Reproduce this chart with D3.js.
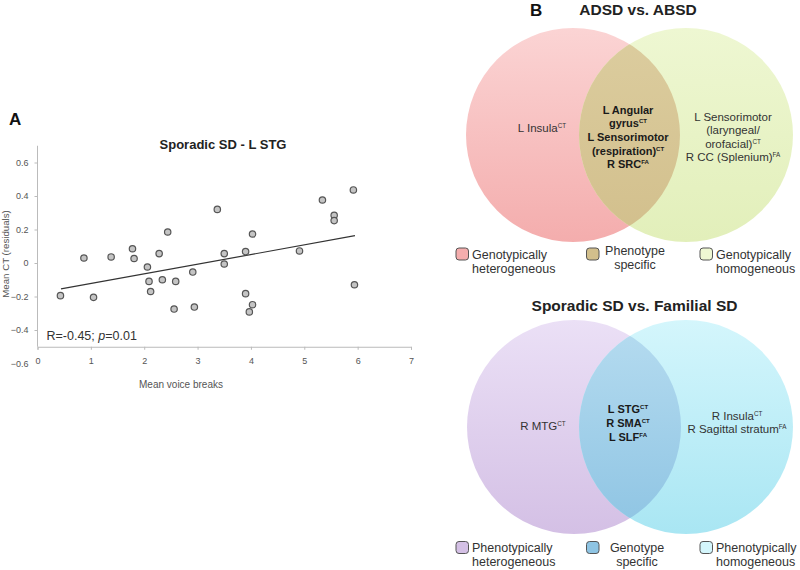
<!DOCTYPE html>
<html>
<head>
<meta charset="utf-8">
<script src="https://cdn.jsdelivr.net/npm/d3@7"></script>
<style>
  body { margin: 0; background: #fff; }
  svg { display: block; font-family: "Liberation Sans", Arial, sans-serif; }
</style>
</head>
<body>
<svg id="chart" width="800" height="570"></svg>
<script>
// panel A data
var voiceBreaks = [0.43, 0.87, 1.05, 1.38, 1.78, 1.81, 2.06, 2.28, 2.44, 2.09,
                   2.12, 2.34, 2.59, 2.56, 2.91, 2.94, 3.37, 3.50, 3.50, 3.90,
                   4.03, 3.90, 4.03, 3.97, 4.91, 5.34, 5.56, 5.56, 5.92, 5.94];
var meanCT = [-0.195, 0.03, -0.205, 0.036, 0.085, 0.027, -0.024, 0.056, 0.185, -0.11,
              -0.17, -0.10, -0.11, -0.275, -0.054, -0.263, 0.32, 0.056, -0.006, 0.068,
              0.173, -0.183, -0.249, -0.292, 0.072, 0.376, 0.285, 0.253, 0.436, -0.13];
var fitX = [0.44, 5.95];
var fitY = [-0.155, 0.163];
var xTicks = [0, 1, 2, 3, 4, 5, 6, 7];
var yTicks = [0.6, 0.4, 0.2, 0, -0.2, -0.4, -0.6];

// panel B labels: [text, superscript]
var topLeft = [["L Insula", "CT"]];
var topMid = [["L Angular", ""], ["gyrus", "CT"], ["L Sensorimotor", ""], ["(respiration)", "CT"], ["R SRC", "FA"]];
var topRight = [["L Sensorimotor", ""], ["(laryngeal/", ""], ["orofacial)", "CT"], ["R CC (Splenium)", "FA"]];
var botLeft = [["R MTG", "CT"]];
var botMid = [["L STG", "CT"], ["R SMA", "CT"], ["L SLF", "FA"]];
var botRight = [["R Insula", "CT"], ["R Sagittal stratum", "FA"]];
var topLegend = [["Genotypically", "heterogeneous"], ["Phenotype", "specific"], ["Genotypically", "homogeneous"]];
var botLegend = [["Phenotypically", "heterogeneous"], ["Genotype", "specific"], ["Phenotypically", "homogeneous"]];

var svg = d3.select("#chart");
var defs = svg.append("defs");

// ---------- panel A ----------
var x = d3.scaleLinear().domain([0, 7]).range([37.5, 411]);
var y = d3.scaleLinear().domain([-0.6, 0.7]).range([363.5, 145.75]);

svg.append("text").attr("x", 9).attr("y", 125)
  .attr("font-size", 17).attr("font-weight", "bold").attr("fill", "#111").text("A");

svg.append("text").attr("x", 223).attr("y", 148.5).attr("text-anchor", "middle")
  .attr("font-size", 13).attr("font-weight", "bold").attr("fill", "#222")
  .text("Sporadic SD - L STG");

var xAxis = svg.append("g").attr("transform", "translate(0," + y(-0.5) + ")")
  .call(d3.axisBottom(x).tickValues(xTicks).tickSize(3).tickPadding(8).tickFormat(d3.format("d")));
xAxis.select(".domain").attr("stroke", "#bbb");
xAxis.selectAll(".tick line").attr("stroke", "#bbb");
xAxis.selectAll("text").attr("fill", "#555").attr("font-size", 9)
  .attr("font-family", "Liberation Sans, Arial, sans-serif");

var yAxis = svg.append("g").attr("transform", "translate(" + x(0) + ",0)")
  .call(d3.axisLeft(y).tickValues(yTicks).tickSize(3).tickPadding(6)
    .tickFormat(function (d) { return d === 0 ? "0" : d3.format(".1f")(d); }));
yAxis.select(".domain").remove();
yAxis.selectAll(".tick line").attr("stroke", "#bbb")
  .attr("opacity", function (d) { return d < -0.5 ? 0 : 1; });
yAxis.selectAll("text").attr("fill", "#555").attr("font-size", 9)
  .attr("font-family", "Liberation Sans, Arial, sans-serif");
svg.append("line").attr("x1", x(0)).attr("x2", x(0))
  .attr("y1", y(0.7)).attr("y2", y(-0.5)).attr("stroke", "#bbb");

svg.append("text").attr("x", 181).attr("y", 387.5).attr("text-anchor", "middle")
  .attr("font-size", 10).attr("fill", "#555").text("Mean voice breaks");
svg.append("text").attr("transform", "translate(9,254) rotate(-90)")
  .attr("text-anchor", "middle").attr("font-size", 9.7).attr("fill", "#555")
  .text("Mean CT (residuals)");

svg.append("line")
  .attr("x1", x(fitX[0])).attr("y1", y(fitY[0]))
  .attr("x2", x(fitX[1])).attr("y2", y(fitY[1]))
  .attr("stroke", "#333").attr("stroke-width", 1.2);

svg.append("g").selectAll("circle").data(voiceBreaks).join("circle")
  .attr("cx", function (d) { return x(d); })
  .attr("cy", function (d, i) { return y(meanCT[i]); })
  .attr("r", 3.2)
  .attr("fill", "#c4c4c4").attr("stroke", "#555").attr("stroke-width", 1.2);

var rText = svg.append("text").attr("x", 46.5).attr("y", 340)
  .attr("font-size", 12.5).attr("fill", "#333");
rText.append("tspan").text("R=-0.45; ");
rText.append("tspan").attr("font-style", "italic").text("p");
rText.append("tspan").text("=0.01");

// ---------- panel B ----------
function grad(id, c1, c2) {
  var g = defs.append("linearGradient").attr("id", id)
    .attr("x1", 0).attr("y1", 0).attr("x2", 0).attr("y2", 1);
  g.append("stop").attr("offset", "0%").attr("stop-color", c1);
  g.append("stop").attr("offset", "100%").attr("stop-color", c2);
}

function writeLines(g, cx, y0, step, items, size, weight, color) {
  items.forEach(function (it, i) {
    var t = g.append("text").attr("x", cx).attr("y", y0 + i * step)
      .attr("text-anchor", "middle").attr("font-size", size)
      .attr("font-weight", weight).attr("fill", color);
    t.append("tspan").text(it[0]);
    if (it[1]) {
      t.append("tspan").attr("dy", -4).attr("font-size", size * 0.55).text(it[1]);
    }
  });
}

function venn(opt) {
  var g = svg.append("g");
  var r = 107;
  grad(opt.id + "L", opt.left[0], opt.left[1]);
  grad(opt.id + "R", opt.right[0], opt.right[1]);
  grad(opt.id + "M", opt.mid[0], opt.mid[1]);
  defs.append("clipPath").attr("id", opt.id + "clip")
    .append("circle").attr("cx", opt.cxL).attr("cy", opt.cy).attr("r", r);

  g.append("circle").attr("cx", opt.cxL).attr("cy", opt.cy).attr("r", r)
    .attr("fill", "url(#" + opt.id + "L)");
  g.append("circle").attr("cx", opt.cxR).attr("cy", opt.cy).attr("r", r)
    .attr("fill", "url(#" + opt.id + "R)");
  g.append("circle").attr("cx", opt.cxR).attr("cy", opt.cy).attr("r", r)
    .attr("clip-path", "url(#" + opt.id + "clip)")
    .attr("fill", "url(#" + opt.id + "M)");

  svg.append("text").attr("x", opt.titleX).attr("y", opt.titleY)
    .attr("text-anchor", "middle").attr("font-size", 15.5).attr("font-weight", "bold")
    .attr("fill", "#222").text(opt.title);

  writeLines(g, opt.leftText[0], opt.leftText[1], 13.6, opt.leftItems, 11.5, "normal", "#333");
  writeLines(g, 628, opt.midY, 13.7, opt.midItems, 11, "bold", "#1a1a1a");
  writeLines(g, opt.rightText[0], opt.rightText[1], 13.5, opt.rightItems, 11.5, "normal", "#333");

  // legend
  var lg = svg.append("g");
  var swatch = [opt.left[1], opt.mid[1], opt.right[0]];
  var sx = [456, 586.5, 700];
  opt.legend.forEach(function (lab, i) {
    lg.append("rect").attr("x", sx[i]).attr("y", opt.legY - 6)
      .attr("width", 12.5).attr("height", 12).attr("rx", 3)
      .attr("fill", swatch[i]).attr("stroke", "#555").attr("stroke-width", 1);
    if (i === 1) {
      [0, 1].forEach(function (k) {
        lg.append("text").attr("x", opt.midLegX).attr("y", opt.legY + 0.5 + k * 14.2 + opt.midLegShift)
          .attr("text-anchor", "middle").attr("font-size", 12.5).attr("fill", "#333").text(lab[k]);
      });
    } else {
      [0, 1].forEach(function (k) {
        lg.append("text").attr("x", sx[i] + 16).attr("y", opt.legY + 4.5 + k * 14.2)
          .attr("font-size", 12.5).attr("fill", "#333").text(lab[k]);
      });
    }
  });
}

svg.append("text").attr("x", 530).attr("y", 15.5)
  .attr("font-size", 17).attr("font-weight", "bold").attr("fill", "#111").text("B");

venn({
  id: "vt", cxL: 573, cxR: 686, cy: 135,
  left: ["#fbd4d4", "#f4adad"], right: ["#eef7d2", "#e2efba"], mid: ["#dccd9f", "#d2bf8c"],
  title: "ADSD vs. ABSD", titleX: 638, titleY: 14.5,
  leftText: [542, 132], leftItems: topLeft,
  midY: 113.5, midItems: topMid,
  rightText: [733, 120.7], rightItems: topRight,
  legend: topLegend, legY: 254, midLegX: 635, midLegShift: 0
});

venn({
  id: "vb", cxL: 574, cxR: 686, cy: 427,
  left: ["#ebe0f6", "#d4c0e5"], right: ["#d4f6fc", "#a9e6f3"], mid: ["#b6dcf0", "#8ec4e3"],
  title: "Sporadic SD vs. Familial SD", titleX: 634.5, titleY: 310.5,
  leftText: [543, 429.7], leftItems: botLeft,
  midY: 413.3, midItems: botMid,
  rightText: [737, 419.7], rightItems: botRight,
  legend: botLegend, legY: 547.5, midLegX: 637, midLegShift: 4
});
</script>
</body>
</html>
